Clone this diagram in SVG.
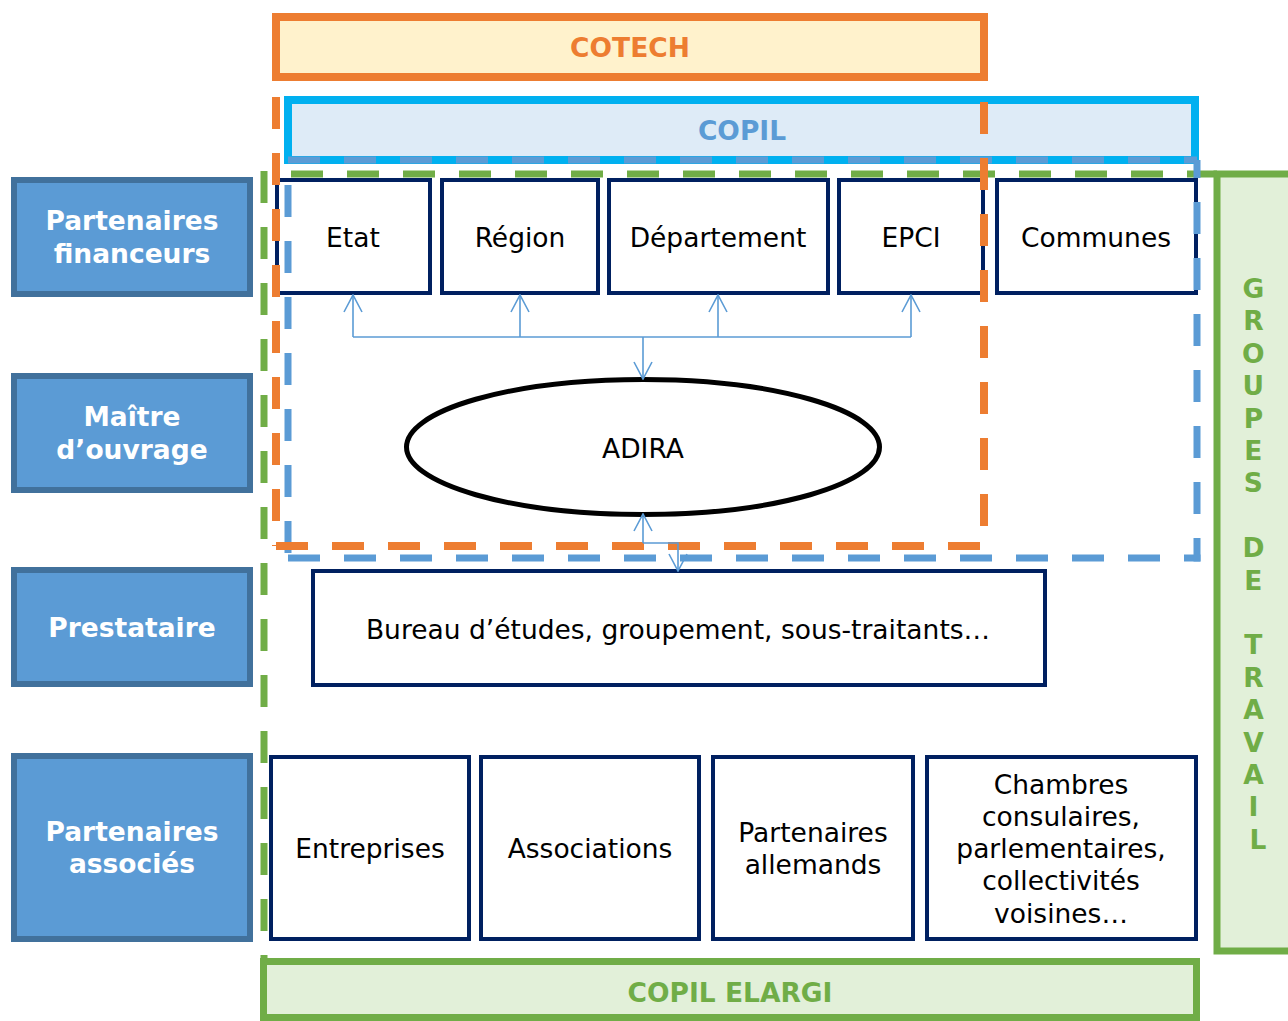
<svg xmlns="http://www.w3.org/2000/svg" width="1288" height="1021" viewBox="0 0 1288 1021">
  <defs>
    <style>
      .t { font-family: "DejaVu Sans", Verdana, sans-serif; font-size: 26.5px; text-anchor: middle; fill: #000; }
      .b { font-weight: bold; }
      .w { fill: #fff; }
      .role { fill: #5B9BD5; stroke: #41719C; stroke-width: 6; }
      .box { fill: #fff; stroke: #002060; stroke-width: 4; }
      .dash { fill: none; stroke-dasharray: 32 24; }
      .dg { stroke: #70AD47; stroke-width: 7; }
      .db { stroke: #5B9BD5; stroke-width: 7; }
      .do { stroke: #ED7D31; stroke-width: 8; }
      .link { fill: none; stroke: #5B9BD5; stroke-width: 1.6; }
    </style>
    <marker id="arrow" viewBox="-19 -10 20 20" refX="0" refY="0" markerWidth="20" markerHeight="20" markerUnits="userSpaceOnUse" orient="auto">
      <path d="M-17,-9 L0,0 L-17,9" fill="none" stroke="#5B9BD5" stroke-width="1.6"/>
    </marker>
  </defs>

  <rect width="1288" height="1021" fill="#fff"/>

  <!-- committee bands -->
  <g id="cotech">
    <rect x="276" y="17" width="708" height="60" fill="#FFF2CC" stroke="#ED7D31" stroke-width="8"/>
    <text class="t b" x="630" y="57" style="fill:#ED7D31">COTECH</text>
  </g>
  <g id="copil">
    <rect x="288" y="100" width="907" height="60" fill="#DEEBF7" stroke="#00B0F0" stroke-width="8"/>
    <text class="t b" x="742" y="140" style="fill:#5B9BD5">COPIL</text>
  </g>
  <g id="groupes-de-travail">
    <rect x="1217" y="174" width="100" height="777" fill="#E2F0D9" stroke="#70AD47" stroke-width="7"/>
    <text class="t b" style="fill:#70AD47">
      <tspan x="1258" y="298">G</tspan>
      <tspan x="1258" y="330.4">R</tspan>
      <tspan x="1258" y="362.8">O</tspan>
      <tspan x="1258" y="395.2">U</tspan>
      <tspan x="1258" y="427.6">P</tspan>
      <tspan x="1258" y="460">E</tspan>
      <tspan x="1258" y="492.4">S</tspan>
      <tspan x="1258" y="557.2">D</tspan>
      <tspan x="1258" y="589.6">E</tspan>
      <tspan x="1258" y="654.4">T</tspan>
      <tspan x="1258" y="686.8">R</tspan>
      <tspan x="1258" y="719.2">A</tspan>
      <tspan x="1258" y="751.6">V</tspan>
      <tspan x="1258" y="784">A</tspan>
      <tspan x="1258" y="816.4">I</tspan>
      <tspan x="1258" y="848.8">L</tspan>
    </text>
  </g>
  <g id="copil-elargi">
    <rect x="263.5" y="961.5" width="933" height="56" fill="#E2F0D9" stroke="#70AD47" stroke-width="7"/>
    <text class="t b" x="730" y="1002" style="fill:#70AD47">COPIL ELARGI</text>
  </g>

  <!-- role column -->
  <g id="role-financeurs">
    <rect class="role" x="14" y="180" width="236" height="114"/>
    <text class="t b w" x="132" y="230">Partenaires</text>
    <text class="t b w" x="132" y="263">financeurs</text>
  </g>
  <g id="role-maitre-ouvrage">
    <rect class="role" x="14" y="376" width="236" height="114"/>
    <text class="t b w" x="132" y="426">Maître</text>
    <text class="t b w" x="132" y="459">d’ouvrage</text>
  </g>
  <g id="role-prestataire">
    <rect class="role" x="14" y="570" width="236" height="114"/>
    <text class="t b w" x="132" y="637">Prestataire</text>
  </g>
  <g id="role-associes">
    <rect class="role" x="14" y="756" width="236" height="183"/>
    <text class="t b w" x="132" y="841">Partenaires</text>
    <text class="t b w" x="132" y="873">associés</text>
  </g>

  <!-- funders -->
  <g id="etat">
    <rect class="box" x="277" y="180" width="153" height="113"/>
    <text class="t" x="353" y="247">Etat</text>
  </g>
  <g id="region">
    <rect class="box" x="442" y="180" width="156" height="113"/>
    <text class="t" x="520" y="247">Région</text>
  </g>
  <g id="departement">
    <rect class="box" x="609" y="180" width="219" height="113"/>
    <text class="t" x="718" y="247">Département</text>
  </g>
  <g id="epci">
    <rect class="box" x="839" y="180" width="144" height="113"/>
    <text class="t" x="911" y="247">EPCI</text>
  </g>
  <g id="communes">
    <rect class="box" x="997" y="180" width="199" height="113"/>
    <text class="t" x="1096" y="247">Communes</text>
  </g>

  <!-- project owner -->
  <g id="adira">
    <ellipse cx="643" cy="447" rx="236.5" ry="67.5" fill="#fff" stroke="#000" stroke-width="5"/>
    <text class="t" x="643" y="458">ADIRA</text>
  </g>

  <!-- contractor -->
  <g id="bureau">
    <rect class="box" x="313" y="571" width="732" height="114"/>
    <text class="t" x="678" y="639">Bureau d’études, groupement, sous-traitants…</text>
  </g>

  <!-- associated partners -->
  <g id="entreprises">
    <rect class="box" x="271" y="757" width="198" height="182"/>
    <text class="t" x="370" y="858">Entreprises</text>
  </g>
  <g id="associations">
    <rect class="box" x="481" y="757" width="218" height="182"/>
    <text class="t" x="590" y="858">Associations</text>
  </g>
  <g id="partenaires-allemands">
    <rect class="box" x="713" y="757" width="200" height="182"/>
    <text class="t" x="813" y="842">Partenaires</text>
    <text class="t" x="813" y="874">allemands</text>
  </g>
  <g id="chambres">
    <rect class="box" x="927" y="757" width="269" height="182"/>
    <text class="t" x="1061" y="794">Chambres</text>
    <text class="t" x="1061" y="826">consulaires,</text>
    <text class="t" x="1061" y="858">parlementaires,</text>
    <text class="t" x="1061" y="890">collectivités</text>
    <text class="t" x="1061" y="923">voisines…</text>
  </g>

  <!-- dashed scope outlines -->
  <g id="scope-copil-elargi">
    <line class="dash dg" x1="264" y1="171" x2="264" y2="962"/>
    <line class="dash dg" x1="291" y1="174" x2="1217" y2="174"/>
  </g>
  <g id="scope-copil">
    <line class="dash db" x1="288" y1="160" x2="1197" y2="160"/>
    <line class="dash db" x1="288" y1="185" x2="288" y2="558"/>
    <line class="dash db" x1="288" y1="558" x2="1200.5" y2="558"/>
    <line class="dash db" x1="1197" y1="160" x2="1197" y2="561.5" stroke-dashoffset="14"/>
  </g>
  <g id="scope-cotech">
    <line class="dash do" x1="276" y1="97" x2="276" y2="546"/>
    <line class="dash do" x1="984" y1="102" x2="984" y2="546"/>
    <line class="dash do" x1="276" y1="546" x2="984" y2="546"/>
  </g>

  <!-- connectors -->
  <g id="connectors">
    <path class="link" d="M353,337 H911"/>
    <path class="link" d="M353,337 V295" marker-end="url(#arrow)"/>
    <path class="link" d="M520,337 V295" marker-end="url(#arrow)"/>
    <path class="link" d="M718,337 V295" marker-end="url(#arrow)"/>
    <path class="link" d="M911,337 V295" marker-end="url(#arrow)"/>
    <path class="link" d="M643,337 V379" marker-end="url(#arrow)"/>
    <path class="link" d="M643,543 V514" marker-end="url(#arrow)"/>
    <path class="link" d="M643,543 H678 V571" marker-end="url(#arrow)"/>
  </g>
</svg>
